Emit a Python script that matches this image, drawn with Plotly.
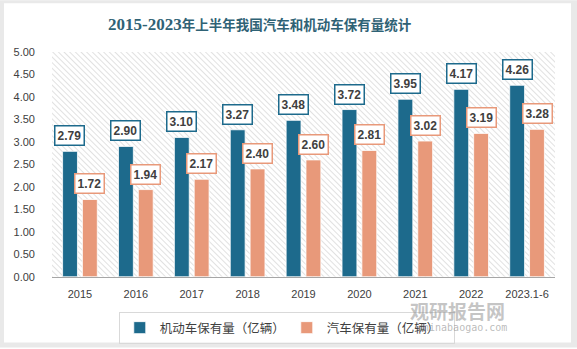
import base64
import plotly.graph_objects as go

categories = ["2015", "2016", "2017", "2018", "2019", "2020", "2021", "2022", "2023.1-6"]
motor_vehicles = [2.79, 2.90, 3.10, 3.27, 3.48, 3.72, 3.95, 4.17, 4.26]
cars = [1.72, 1.94, 2.17, 2.40, 2.60, 2.81, 3.02, 3.19, 3.28]
series_names = ["机动车保有量（亿辆）", "汽车保有量（亿辆）"]
y_ticks = [0, 0.5, 1, 1.5, 2, 2.5, 3, 3.5, 4, 4.5, 5]

W, H = 577, 349
ML, MR, MT, MB = 52, 22, 52, 71
PW, PH = W - ML - MR, H - MT - MB

C_DARK = "#1d6a8c"
C_LIGHT = "#e8997a"
TXT = "#404040"

positions = list(range(len(categories)))

# hatched background for plot area
svg = (
    f'<svg xmlns="http://www.w3.org/2000/svg" width="{PW}" height="{PH}">'
    '<defs><pattern id="h" width="4" height="4" patternUnits="userSpaceOnUse" '
    'patternTransform="rotate(-45)"><rect width="4" height="4" fill="#ffffff"/>'
    '<line x1="0" y1="0" x2="0" y2="4" stroke="#d2d2d2" stroke-width="1.3"/></pattern></defs>'
    f'<rect width="{PW}" height="{PH}" fill="url(#h)"/></svg>'
)
svg_uri = "data:image/svg+xml;base64," + base64.b64encode(svg.encode()).decode()

fig = go.Figure()
fig.add_trace(go.Bar(x=positions, y=motor_vehicles, name=series_names[0],
                     marker=dict(color=C_DARK, line=dict(color="white", width=0.8))))
fig.add_trace(go.Bar(x=positions, y=cars, name=series_names[1],
                     marker=dict(color=C_LIGHT, line=dict(color="white", width=0.8))))

def px(x):
    return (x - ML) / PW

def py(y):  # y in pixels from top
    return (H - MB - y) / PH

annotations = []
# watermark
annotations.append(dict(x=px(507), y=py(312), xref="paper", yref="paper", text="<b>观研报告网</b>",
                        showarrow=False, yanchor="middle",
                        font=dict(family="Noto Sans CJK SC", size=19, color="rgba(140,140,140,0.5)")))
annotations.append(dict(x=px(509), y=py(329), xref="paper", yref="paper", text="chinabaogao.com",
                        showarrow=False, yanchor="middle",
                        font=dict(family="DejaVu Sans Mono, monospace", size=10, color="rgba(140,140,140,0.6)")))

for vals, col, shift in [(motor_vehicles, C_DARK, -10), (cars, C_LIGHT, 10)]:
    for p, v in zip(positions, vals):
        annotations.append(dict(
            x=p, y=v, xref="x", yref="y", text=f"<b>{v:.2f}</b>", showarrow=False,
            xshift=shift, yshift=5, yanchor="bottom", xanchor="center",
            font=dict(family="Liberation Sans, Arial", size=12, color=TXT),
            bgcolor="white", bordercolor=col, borderwidth=1.5, borderpad=2,
        ))

# gray frame (outer minus inner)
frame = (f"M{px(0)},{py(0)} L{px(W)},{py(0)} L{px(W)},{py(H)} L{px(0)},{py(H)} Z "
         f"M{px(4)},{py(3)} L{px(571)},{py(3)} L{px(571)},{py(344)} L{px(4)},{py(344)} Z")

fig.update_layout(
    width=W, height=H,
    margin=dict(l=ML, r=MR, t=MT, b=MB, pad=0),
    paper_bgcolor="white", plot_bgcolor="rgba(0,0,0,0)",
    title=dict(
        text="<b><span style='font-family:Liberation Serif;font-size:17px'>2015-2023</span>年上半年我国汽车和机动车保有量统计</b>",
        x=0.45, xref="container", xanchor="center", y=1 - 25 / H, yanchor="middle",
        font=dict(family="Noto Sans CJK SC", size=13.5, color="#2f6275"),
    ),
    barmode="group", bargap=0.29, bargroupgap=0.25,
    xaxis=dict(range=[-0.5, len(categories) - 0.5], tickvals=positions, ticktext=categories,
               showline=True, linecolor="#a6a6a6", linewidth=1, ticks="", showgrid=False,
               zeroline=False,
               tickfont=dict(family="Liberation Sans, Arial", size=11, color=TXT),
               ticklabelstandoff=7),
    yaxis=dict(range=[0, 5], tickvals=y_ticks, tickformat=".2f", showgrid=False, zeroline=False,
               showline=False, ticks="",
               tickfont=dict(family="Liberation Sans, Arial", size=11, color=TXT),
               ticklabelstandoff=16),
    legend=dict(orientation="h", xref="container", yref="container", x=0.497, xanchor="center",
                y=1 - 312 / H, yanchor="top", bordercolor="#d9d9d9", borderwidth=1,
                bgcolor="rgba(255,255,255,0)", font=dict(family="Noto Sans CJK SC", size=12.5, color=TXT),
                entrywidth=122, entrywidthmode="pixels", itemclick=False, itemwidth=30,
                tracegroupgap=0),
    images=[dict(source=svg_uri, xref="paper", yref="paper", x=0, y=1, sizex=1, sizey=1,
                 sizing="stretch", layer="below", xanchor="left", yanchor="top")],
    shapes=[dict(type="path", path=frame, xref="paper", yref="paper", fillcolor="#e9e9e9",
                 line=dict(width=0), layer="below")],
    annotations=annotations,
    showlegend=True,
)

fig.write_html("out.html")
